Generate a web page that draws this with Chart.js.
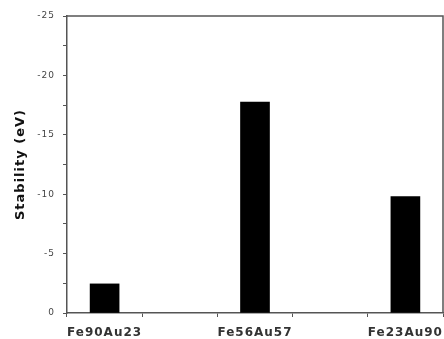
<!DOCTYPE html>
<html>
<head>
<meta charset="utf-8">
<script src="https://cdn.jsdelivr.net/npm/chart.js@4"></script>
<style>
  html, body { margin: 0; padding: 0; background: #fff; }
  #wrap { width: 444px; height: 339px; }
</style>
</head>
<body>
<div id="wrap"><canvas id="c" width="444" height="339"></canvas></div>
<script>
const categories = ['Fe90Au23', 'Fe56Au57', 'Fe23Au90']
const stability = [-2.45, -17.75, -9.8]
const yTicks = [0, -5, -10, -15, -20, -25]

const AXIS = '#555'
const FONT = '"DejaVu Sans", Arial, sans-serif'

// box round the plot area (top and right sides), plus the wide letter spacing of the original
const frame = {
  id: 'frame',
  beforeDraw(chart) {
    chart.ctx.letterSpacing = '1px'
  },
  afterDraw(chart) {
    const { ctx, chartArea: a } = chart
    ctx.save()
    ctx.strokeStyle = AXIS
    ctx.lineWidth = 1.5
    ctx.beginPath()
    ctx.moveTo(a.left, a.top)
    ctx.lineTo(a.right, a.top)
    ctx.lineTo(a.right, a.bottom)
    ctx.stroke()
    ctx.restore()
  }
}

new Chart(document.getElementById('c'), {
  type: 'bar',
  data: {
    datasets: [{
      data: stability.map((v, i) => ({ x: i + 1, y: v })),
      backgroundColor: '#000',
      borderWidth: 0,
      barThickness: 29
    }]
  },
  options: {
    responsive: false,
    animation: false,
    layout: { padding: { top: 16, right: 1, left: 13, bottom: 0 } },
    plugins: { legend: { display: false }, tooltip: { enabled: false } },
    scales: {
      x: {
        type: 'linear',
        offset: false,
        min: 0.75,
        max: 3.25,
        afterFit: s => { s.height = 26; s.paddingLeft = 0; s.paddingRight = 0 },
        afterBuildTicks: s => { s.ticks = [1, 1.5, 2, 2.5, 3].map(v => ({ value: v })) },
        ticks: {
          autoSkip: false,
          maxRotation: 0,
          padding: 9,
          color: '#333',
          font: { family: FONT, size: 12, weight: 'bold' },
          callback: v => Number.isInteger(v) ? categories[v - 1] : ''
        },
        grid: { drawOnChartArea: false, tickLength: 4, color: AXIS, tickColor: AXIS },
        border: { color: AXIS, width: 1.5 }
      },
      y: {
        min: -25,
        max: 0,
        reverse: true,
        afterFit: s => { s.width = 54 },
        afterBuildTicks: s => {
          const t = []
          for (let v = 0; v >= -25; v -= 2.5) t.push({ value: v })
          s.ticks = t
        },
        ticks: {
          autoSkip: false,
          padding: 8,
          color: '#444',
          font: { family: FONT, size: 9 },
          callback: v => yTicks.includes(v) ? String(v) : ''
        },
        grid: { drawOnChartArea: false, tickLength: 4, color: AXIS, tickColor: AXIS },
        border: { color: AXIS, width: 1.5 },
        title: {
          display: true,
          text: 'Stability (eV)',
          color: '#111',
          padding: { top: 0, bottom: 0 },
          font: { family: FONT, size: 13, weight: 'bold' }
        }
      }
    }
  },
  plugins: [frame]
})
</script>
</body>
</html>
